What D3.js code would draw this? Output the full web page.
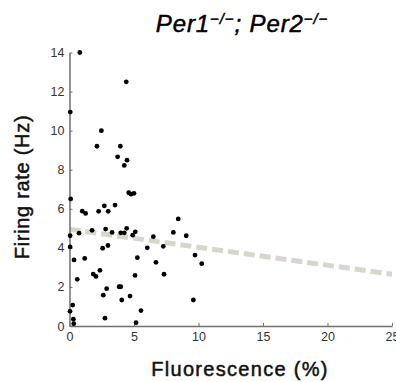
<!DOCTYPE html>
<html>
<head>
<meta charset="utf-8">
<style>
  body { margin: 0; background: #fff; }
  svg { display: block; font-family: "Liberation Sans", Arial, sans-serif; }
</style>
</head>
<body>
<svg width="396" height="382"></svg>
<script src="https://d3js.org/d3.v7.min.js"></script>
<script>
// fluorescence (%) and firing rate (Hz) per cell
const fluor = [
  0.8, 4.4, 0.06, 2.47, 2.13, 3.94, 3.73, 4.46, 4.25,
  0.09, 2.7, 3.53, 3.0, 0.99, 1.25, 2.26, 4.59, 4.77, 5.0, 8.43,
  0.05, 0.74, 1.75, 2.8, 3.3, 3.97, 4.25, 4.43, 4.9, 5.1, 6.5, 8.05, 9.05,
  7.27, 6.03, 0.05, 2.57, 2.98,
  0.35, 1.18, 5.26, 9.73, 10.25, 6.7,
  2.36, 1.84, 2.05, 7.33, 0.6, 5.08,
  3.84, 3.97, 2.88, 2.62, 4.05, 4.69, 9.6,
  0.25, 0.04, 5.54, 2.75, 0.3, 5.16, 0.33
];
const rate = [
  14.0, 12.5, 10.95, 10.0, 9.2, 9.2, 8.66, 8.49, 8.22,
  6.5, 6.15, 6.19, 5.87, 5.88, 5.76, 5.87, 6.82, 6.75, 6.79, 5.48,
  4.62, 4.75, 4.9, 4.96, 4.79, 4.77, 4.77, 5.0, 4.65, 4.82, 4.57, 4.79, 4.62,
  4.08, 4.0, 4.05, 3.98, 4.12,
  3.38, 3.46, 3.5, 3.63, 3.19, 3.26,
  2.85, 2.66, 2.54, 2.65, 2.39, 2.59,
  2.01, 2.01, 1.91, 1.58, 1.33, 1.53, 1.33,
  1.07, 0.75, 0.79, 0.4, 0.35, 0.17, 0.12
];
// linear fit endpoints
const fitX = [0, 25];
const fitY = [4.95, 2.65];

const xTicks = [0, 5, 10, 15, 20, 25];
const yTicks = [0, 2, 4, 6, 8, 10, 12, 14];

const svg = d3.select("svg");
const x = d3.scaleLinear().domain([0, 25]).range([69.5, 392]);
const y = d3.scaleLinear().domain([0, 14]).range([326, 52.5]);

// title
const title = svg.append("text")
  .attr("x", 242).attr("y", 32)
  .attr("text-anchor", "middle")
  .style("font-style", "italic")
  .style("font-size", "24px")
  .style("letter-spacing", "0.9px")
  .attr("fill", "#000")
  .attr("stroke", "#000")
  .attr("stroke-width", 0.5);
title.append("tspan").text("Per1");
title.append("tspan").attr("dy", -8).style("font-size", "15px").text("\u2212/\u2212");
title.append("tspan").attr("dy", 8).text("; Per2");
title.append("tspan").attr("dy", -8).style("font-size", "15px").text("\u2212/\u2212");

// fit line
svg.append("line")
  .attr("x1", x(fitX[0])).attr("y1", y(fitY[0]))
  .attr("x2", x(fitX[1])).attr("y2", y(fitY[1]))
  .attr("stroke", "#d8d5cc")
  .attr("stroke-width", 5)
  .attr("stroke-dasharray", "11,5");

// axes
const xAxis = svg.append("g")
  .attr("transform", `translate(0,${y(0)})`)
  .call(d3.axisBottom(x).tickValues(xTicks).tickSizeInner(-3).tickSizeOuter(0).tickPadding(6));
const yAxis = svg.append("g")
  .attr("transform", `translate(${x(0)},0)`)
  .call(d3.axisLeft(y).tickValues(yTicks).tickSizeInner(-3).tickSizeOuter(0).tickPadding(5));

[xAxis, yAxis].forEach(g => {
  g.select(".domain").attr("stroke", "#6f6f6f").attr("stroke-width", 1.5);
  g.selectAll(".tick line").attr("stroke", "#6f6f6f");
  g.selectAll(".tick text")
    .attr("fill", "#333")
    .style("font-size", "12.5px")
    .style("font-family", "Liberation Sans, Arial, sans-serif");
});

// points
svg.append("g").selectAll("circle")
  .data(d3.range(fluor.length))
  .join("circle")
  .attr("cx", i => x(fluor[i]))
  .attr("cy", i => y(rate[i]))
  .attr("r", 2.4)
  .attr("fill", "#000");

// axis labels
svg.append("text")
  .attr("x", 240).attr("y", 376)
  .attr("text-anchor", "middle")
  .style("font-size", "20px")
  .style("letter-spacing", "1.3px")
  .attr("fill", "#111")
  .attr("stroke", "#111")
  .attr("stroke-width", 0.5)
  .text("Fluorescence (%)");

svg.append("text")
  .attr("transform", "translate(29,187) rotate(-90)")
  .attr("text-anchor", "middle")
  .style("font-size", "20px")
  .style("letter-spacing", "0.7px")
  .attr("fill", "#111")
  .attr("stroke", "#111")
  .attr("stroke-width", 0.5)
  .text("Firing rate (Hz)");
</script>
</body>
</html>
